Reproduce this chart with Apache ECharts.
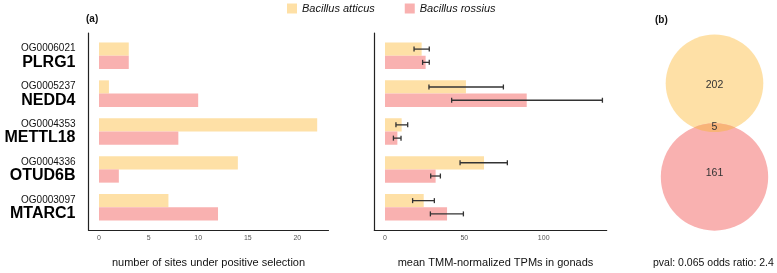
<!DOCTYPE html>
<html>
<head>
<meta charset="utf-8">
<script src="https://cdn.jsdelivr.net/npm/echarts@6/dist/echarts.min.js"></script>
<style>
html,body{margin:0;padding:0;background:#fff;}
#chart{width:777px;height:273px;}
</style>
</head>
<body>
<div id="chart"></div>
<script>
// 数据
var ogIds = ['OG0006021', 'OG0005237', 'OG0004353', 'OG0004336', 'OG0003097'];
var genes = ['PLRG1', 'NEDD4', 'METTL18', 'OTUD6B', 'MTARC1'];
var speciesNames = ['Bacillus atticus', 'Bacillus rossius'];
var speciesColors = ['#fee0a6', '#f9b1b0'];

// 正选择位点数
var sitesAtticus = [3, 1, 22, 14, 7];
var sitesRossius = [3, 10, 8, 2, 12];

// 性腺平均TPM及误差范围
var tpmAtticus = [23.1, 51.0, 10.5, 62.4, 24.4];
var tpmAtticusLo = [18.3, 27.7, 6.9, 47.3, 17.4];
var tpmAtticusHi = [27.9, 74.6, 14.3, 77.1, 31.1];
var tpmRossius = [25.6, 89.3, 7.8, 31.9, 39.1];
var tpmRossiusLo = [23.7, 42.0, 5.3, 28.8, 28.6];
var tpmRossiusHi = [27.9, 137.0, 10.1, 34.9, 49.4];

// 韦恩图
var vennCounts = [202, 5, 161];
var vennNote = 'pval: 0.065 odds ratio: 2.4';

var xTicksLeft = [0, 5, 10, 15, 20];
var xTicksRight = [0, 50, 100];
var catPos = [1, 2, 3, 4, 5];

var FONT = 'Liberation Sans';
var BAR_H = 0.35;

var myChart = echarts.init(document.getElementById('chart'));

function toBarData(vals)
{
	var d = [];
	for(var i=0;i<vals.length;i++)
	{
		d.push([vals[i], catPos[i]]);
	}
	return d;
}
function toErrData(lo, hi)
{
	var d = [];
	for(var i=0;i<lo.length;i++)
	{
		d.push([lo[i], hi[i], catPos[i]]);
	}
	return d;
}
//side: 0 上面(atticus), 1 下面(rossius)
function barRenderer(side)
{
	return function(params, api)
	{
		var val = api.value(0);
		var cat = api.value(1);
		var y0 = side == 0 ? cat - BAR_H : cat;
		var y1 = side == 0 ? cat : cat + BAR_H;
		var p0 = api.coord([0, y0]);
		var p1 = api.coord([val, y1]);
		return {
			type: 'rect',
			shape: {x: p0[0], y: p0[1], width: p1[0]-p0[0], height: p1[1]-p0[1]},
			style: {fill: api.visual('color')}
		};
	};
}
function errRenderer(side)
{
	return function(params, api)
	{
		var cat = api.value(2);
		var yc = side == 0 ? cat - BAR_H/2 : cat + BAR_H/2;
		var a = api.coord([api.value(0), yc]);
		var b = api.coord([api.value(1), yc]);
		var cap = 2.5;
		var st = {stroke: '#333', lineWidth: 1.3};
		return {
			type: 'group',
			children: [
				{type: 'line', shape: {x1: a[0], y1: a[1], x2: b[0], y2: b[1]}, style: st},
				{type: 'line', shape: {x1: a[0], y1: a[1]-cap, x2: a[0], y2: a[1]+cap}, style: st},
				{type: 'line', shape: {x1: b[0], y1: b[1]-cap, x2: b[0], y2: b[1]+cap}, style: st}
			]
		};
	};
}

var axisLineStyle = {show: true, onZero: false, lineStyle: {color: '#222', width: 1.2}};

function makeXAxis(idx, min, max, ticks, name, namePad)
{
	return {
		type: 'value', gridIndex: idx, min: min, max: max,
		axisLine: axisLineStyle,
		axisTick: {show: false},
		splitLine: {show: false},
		axisLabel: {customValues: ticks, fontSize: 7, color: '#555', margin: 5, fontFamily: FONT},
		name: name, nameLocation: 'middle', nameGap: 27,
		nameTextStyle: {fontSize: 11, color: '#111', fontFamily: FONT, padding: namePad}
	};
}
function makeYAxis(idx, showLabel)
{
	return {
		type: 'value', gridIndex: idx, min: 0.4, max: 5.6, inverse: true,
		axisLine: axisLineStyle,
		axisTick: {show: false},
		splitLine: {show: false},
		axisLabel: {
			show: showLabel,
			customValues: catPos,
			margin: 13,
			align: 'right',
			formatter: function(v)
			{
				var i = Math.round(v) - 1;
				return '{a|' + ogIds[i] + '}\n{b|' + genes[i] + '}';
			},
			rich: {
				a: {fontSize: 10, lineHeight: 13, color: '#111', fontFamily: FONT, align: 'right'},
				b: {fontSize: 16, lineHeight: 15, fontWeight: 'bold', color: '#000', fontFamily: FONT, align: 'right'}
			}
		}
	};
}

// 韦恩图几何
var c1 = {x: 714.5, y: 83.3, r: 48.8};
var c2 = {x: 714.5, y: 177, r: 53.7};
var dd = c2.y - c1.y;
var aa = (dd*dd + c1.r*c1.r - c2.r*c2.r) / (2*dd);
var hh = Math.sqrt(c1.r*c1.r - aa*aa);
//交集区域用折线近似两段圆弧
var lensPts = [];
var t1 = Math.atan2(aa, hh);
var n = 30;
for(var k=0;k<=n;k++)
{
	var ang = t1 + (Math.PI - 2*t1) * k / n;
	lensPts.push([c1.x + c1.r*Math.cos(ang), c1.y + c1.r*Math.sin(ang)]);
}
var t2 = Math.atan2(dd - aa, hh);
for(var k=0;k<=n;k++)
{
	var ang = Math.PI + t2 + (Math.PI - 2*t2) * k / n;
	lensPts.push([c2.x + c2.r*Math.cos(ang), c2.y + c2.r*Math.sin(ang)]);
}

var option = {
	backgroundColor: '#fff',
	animation: false,
	legend: {
		data: speciesNames,
		left: 287, top: 3, padding: 0,
		icon: 'rect', itemWidth: 10, itemHeight: 10, itemGap: 30,
		textStyle: {fontSize: 11, fontStyle: 'italic', color: '#111', fontFamily: FONT}
	},
	grid: [
		{left: 88.5, top: 33, width: 240, height: 201},
		{left: 374.3, top: 33, width: 232.4, height: 201}
	],
	xAxis: [
		makeXAxis(0, -1.06, 23.14, xTicksLeft, 'number of sites under positive selection', [0, 0, 0, 0]),
		makeXAxis(1, -6.74, 139.7, xTicksRight, 'mean TMM-normalized TPMs in gonads', [0, 0, 0, 10])
	],
	yAxis: [makeYAxis(0, true), makeYAxis(1, false)],
	series: [
		{name: speciesNames[0], type: 'custom', xAxisIndex: 0, yAxisIndex: 0, itemStyle: {color: speciesColors[0]},
			encode: {x: 0, y: 1}, data: toBarData(sitesAtticus), renderItem: barRenderer(0)},
		{name: speciesNames[1], type: 'custom', xAxisIndex: 0, yAxisIndex: 0, itemStyle: {color: speciesColors[1]},
			encode: {x: 0, y: 1}, data: toBarData(sitesRossius), renderItem: barRenderer(1)},
		{name: speciesNames[0], type: 'custom', xAxisIndex: 1, yAxisIndex: 1, itemStyle: {color: speciesColors[0]},
			encode: {x: 0, y: 1}, data: toBarData(tpmAtticus), renderItem: barRenderer(0)},
		{name: speciesNames[1], type: 'custom', xAxisIndex: 1, yAxisIndex: 1, itemStyle: {color: speciesColors[1]},
			encode: {x: 0, y: 1}, data: toBarData(tpmRossius), renderItem: barRenderer(1)},
		{name: 'err_a', type: 'custom', xAxisIndex: 1, yAxisIndex: 1, z: 5,
			encode: {x: [0, 1], y: 2}, data: toErrData(tpmAtticusLo, tpmAtticusHi), renderItem: errRenderer(0)},
		{name: 'err_r', type: 'custom', xAxisIndex: 1, yAxisIndex: 1, z: 5,
			encode: {x: [0, 1], y: 2}, data: toErrData(tpmRossiusLo, tpmRossiusHi), renderItem: errRenderer(1)}
	],
	graphic: [
		{type: 'text', x: 86, y: 19, style: {text: '(a)', fontSize: 10, fontWeight: 'bold', fill: '#111', verticalAlign: 'middle', fontFamily: FONT}},
		{type: 'text', x: 655, y: 20, style: {text: '(b)', fontSize: 10, fontWeight: 'bold', fill: '#111', verticalAlign: 'middle', fontFamily: FONT}},
		{type: 'circle', shape: {cx: c1.x, cy: c1.y, r: c1.r}, style: {fill: speciesColors[0]}},
		{type: 'circle', shape: {cx: c2.x, cy: c2.y, r: c2.r}, style: {fill: speciesColors[1]}},
		{type: 'polygon', shape: {points: lensPts}, style: {fill: '#f8b478'}},
		{type: 'text', x: c1.x, y: 85, style: {text: String(vennCounts[0]), fontSize: 10.5, fill: '#333', align: 'center', verticalAlign: 'middle', fontFamily: FONT}},
		{type: 'text', x: c1.x, y: 127, style: {text: String(vennCounts[1]), fontSize: 10.5, fill: '#333', align: 'center', verticalAlign: 'middle', fontFamily: FONT}},
		{type: 'text', x: c1.x, y: 173.5, style: {text: String(vennCounts[2]), fontSize: 10.5, fill: '#333', align: 'center', verticalAlign: 'middle', fontFamily: FONT}},
		{type: 'text', x: 653, y: 263, style: {text: vennNote, fontSize: 10.5, fill: '#111', align: 'left', verticalAlign: 'middle', fontFamily: FONT}}
	]
};

myChart.setOption(option);
</script>
</body>
</html>
